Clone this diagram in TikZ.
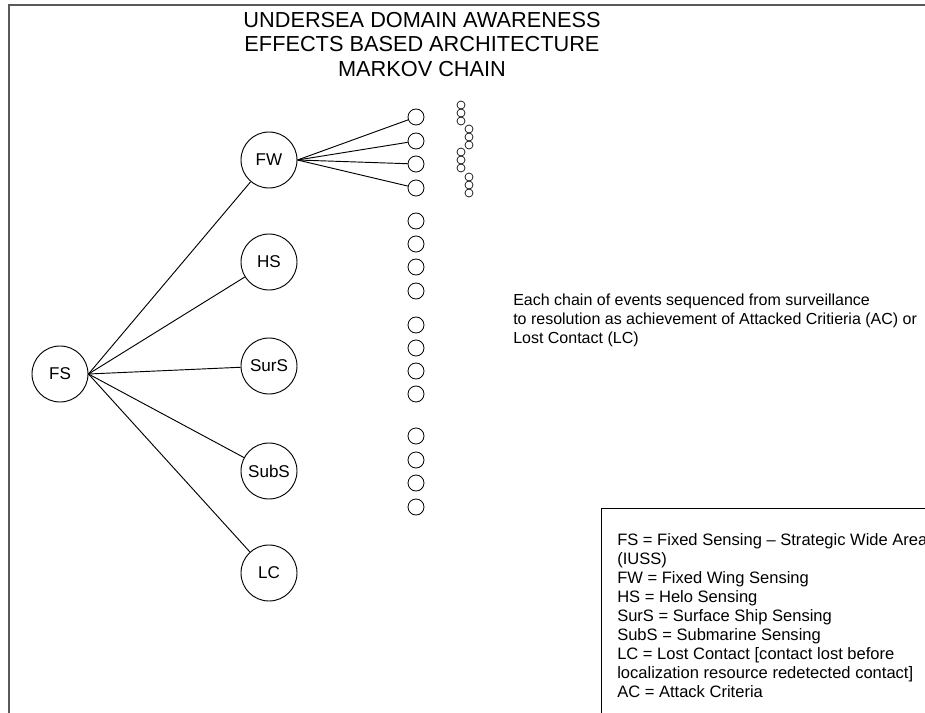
\documentclass[tikz,border=0pt]{standalone}
\usepackage{fontspec}
\setmainfont{Liberation Sans}
\begin{document}
\begin{tikzpicture}[x=0.75pt,y=-0.75pt,
    state/.style={circle, draw, line width=0.7pt, minimum size=42pt, inner sep=0pt, font=\fontsize{12.8}{15}\selectfont},
    event/.style={circle, draw, line width=0.6pt, minimum size=12pt, inner sep=0pt},
    subevent/.style={circle, draw, line width=0.5pt, minimum size=6pt, inner sep=0pt},
    note/.style={anchor=base west, align=left, inner sep=0pt, font=\fontsize{12}{14.25}\selectfont}]
    \useasboundingbox (0,0) rectangle (925,713);
    \clip (0,0) rectangle (925,713);

    % page frame
    \draw[line width=1.5pt, black!65] (9,713) -- (9,5) -- (930,5);

    % title
    \node[align=center, inner sep=0pt, font=\fontsize{16.3}{18.4}\selectfont] (title) at (422,44.5)
        {UNDERSEA DOMAIN AWARENESS\\EFFECTS BASED ARCHITECTURE\\MARKOV CHAIN};

    % sensing states
    \node[state] (FS) at (60,374) {FS};
    \node[state] (FW) at (269,160) {FW};
    \node[state] (HS) at (269,262) {HS};
    \node[state] (SurS) at (269,366) {SurS};
    \node[state] (SubS) at (269,471) {SubS};
    \node[state] (LC) at (269,573) {LC};

    \foreach \n in {FW,HS,SurS,SubS,LC}
        \draw[line width=0.7pt] (FS.east) -- (\n);

    % chain events
    \foreach \y [count=\i] in {117,141,164,188,221,244,267,291,325,348,371,394,436,460,483,507}
        \node[event] (e\i) at (416,\y) {};

    \foreach \i in {1,...,4}
        \draw[line width=0.7pt] (FW.east) -- (e\i);

    % follow-on events
    \foreach \x/\y [count=\k] in {461/113,469/137,461/160,469/185}
        \foreach \d [count=\j] in {-8,0,8}
            \node[subevent] (s\k\j) at (\x,\y+\d) {};

    % base anchor sits on the last line
    \node[note] (chain) at (513,343.5)
        {Each chain of events sequenced from surveillance\\to resolution as achievement of Attacked Critieria (AC) or\\Lost Contact (LC)};

    % legend
    \draw[line width=0.7pt] (601,730) -- (601,508) -- (940,508);
    \node[note, font=\fontsize{12.4}{14.25}\selectfont] (legend) at (617,697)
        {FS = Fixed Sensing -- Strategic Wide Area\\(IUSS)\\FW = Fixed Wing Sensing\\HS = Helo Sensing\\SurS = Surface Ship Sensing\\SubS = Submarine Sensing\\LC = Lost Contact [contact lost before\\localization resource redetected contact]\\AC = Attack Criteria};
\end{tikzpicture}
\end{document}
